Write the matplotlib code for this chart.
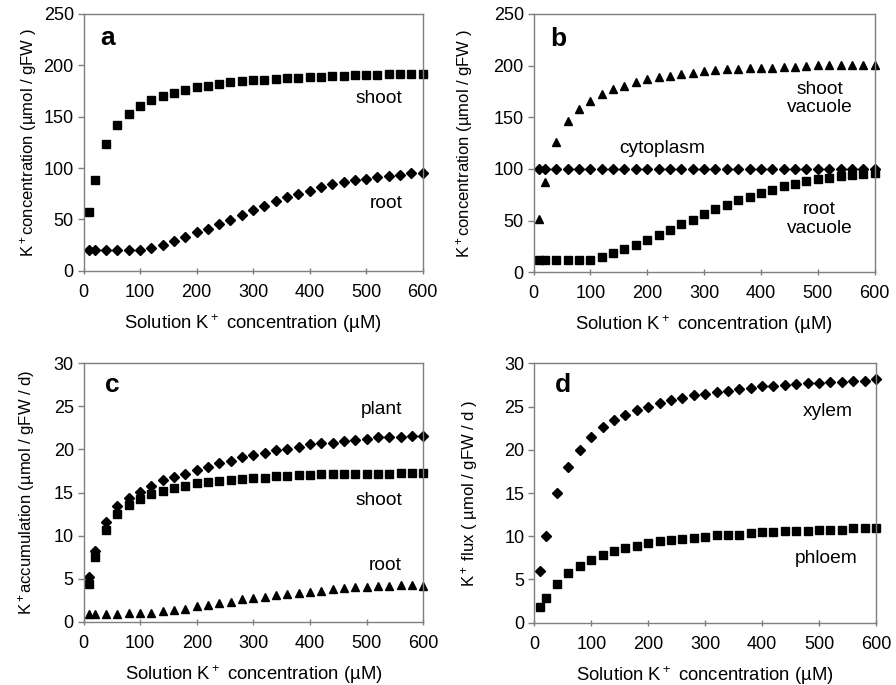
import matplotlib
matplotlib.use("Agg")
import matplotlib.pyplot as plt

plt.rcParams['font.family'] = ['Liberation Sans', 'DejaVu Sans']
plt.rcParams['mathtext.fontset'] = 'custom'
plt.rcParams['mathtext.rm'] = 'Liberation Sans'
plt.rcParams['mathtext.it'] = 'Liberation Sans:italic'
plt.rcParams['mathtext.bf'] = 'Liberation Sans:bold'

x = [10, 20, 40, 60, 80, 100, 120, 140, 160, 180, 200, 220, 240, 260, 280, 300,
     320, 340, 360, 380, 400, 420, 440, 460, 480, 500, 520, 540, 560, 580, 600]

# Panel a
a_shoot = [57, 88.6, 123.7, 141.6, 152.6, 160.4, 166, 170, 172.7, 176, 178.6, 180, 182, 183.4,
           184.4, 185.4, 185.4, 186.7, 187.7, 187.7, 188.6, 188.6, 189.6, 189.6, 190.6, 190.6,
           190.6, 191.9, 191.9, 192, 192]
a_root = [19.8, 20, 20, 20, 20, 20, 21.8, 25.3, 28.9, 33, 37.7, 41, 45.5, 49.7, 54.2, 58.8,
          63.3, 67.9, 71.4, 74.7, 78, 81.2, 84, 86, 88.3, 89.3, 91.6, 92.5, 93.5, 94.8, 94.8]

# Panel b
b_shoot_vac = [52, 87.7, 126, 146, 158, 166, 172.6, 177, 180.6, 184, 186.8, 188.7, 189.7, 192,
               193, 194.5, 195.5, 196.5, 196.5, 197.4, 197.4, 198, 198.7, 199, 199.7, 200.3,
               200.3, 200.6, 201, 201, 201]
b_cyto = [100] * 31
b_root_vac = [12.3, 12.3, 12.3, 12.3, 12.3, 12.3, 15, 18.4, 23, 26.5, 31.3, 36.5, 41, 46.5, 50.6,
              56.8, 61, 65, 69.7, 73.2, 77, 80, 83.2, 85.8, 88, 90, 91.6, 93.2, 94.2, 95.2, 95.8]

# Panel c
c_plant = [5.2, 8.2, 11.6, 13.4, 14.4, 15.1, 15.8, 16.4, 16.8, 17.2, 17.6, 18, 18.4, 18.7, 19.1,
           19.4, 19.6, 19.9, 20.1, 20.3, 20.6, 20.7, 20.8, 21, 21.1, 21.2, 21.4, 21.5, 21.5,
           21.6, 21.6]
c_shoot = [4.4, 7.5, 10.7, 12.5, 13.5, 14.3, 14.8, 15.2, 15.5, 15.8, 16.1, 16.2, 16.3, 16.5,
           16.6, 16.7, 16.7, 16.9, 16.9, 17.0, 17.0, 17.1, 17.1, 17.1, 17.2, 17.2, 17.2, 17.2,
           17.3, 17.3, 17.3]
c_root = [0.9, 0.9, 0.85, 0.9, 1.0, 1.0, 1.05, 1.2, 1.35, 1.5, 1.8, 1.9, 2.2, 2.3, 2.6, 2.75,
          2.9, 3.1, 3.2, 3.3, 3.45, 3.6, 3.8, 3.9, 4.0, 4.0, 4.1, 4.2, 4.25, 4.25, 4.2]

# Panel d
d_xylem = [6.0, 10.0, 15.0, 18.0, 20.0, 21.5, 22.6, 23.4, 24.0, 24.6, 25.0, 25.4, 25.8, 26.0,
           26.3, 26.5, 26.7, 26.8, 27.0, 27.2, 27.4, 27.4, 27.5, 27.6, 27.7, 27.7, 27.8, 27.8,
           28.0, 28.0, 28.15]
d_phloem = [1.8, 2.8, 4.5, 5.7, 6.6, 7.25, 7.8, 8.3, 8.6, 8.9, 9.2, 9.4, 9.55, 9.7, 9.85, 9.95,
            10.1, 10.2, 10.2, 10.4, 10.5, 10.5, 10.6, 10.6, 10.6, 10.75, 10.75, 10.75, 10.9,
            10.9, 10.9]

xlabel = 'Solution K$^+$ concentration (µM)'
ylabels = ['K$^+$concentration (µmol / gFW )', 'K$^+$concentration (µmol / gFW )',
           'K$^+$accumulation (µmol / gFW / d)', 'K$^+$ flux ( µmol / gFW / d )']

W, H = 896, 685
fig = plt.figure(figsize=(W / 100, H / 100), dpi=100)

def make_ax(l, r, t, b):
    return fig.add_axes([l / W, 1 - b / H, (r - l) / W, (b - t) / H])

axa = make_ax(83.5, 422.7, 14, 270.7)
axb = make_ax(533.5, 874.7, 14, 272.3)
axc = make_ax(83.5, 423.3, 363.3, 621.7)
axd = make_ax(534.3, 876, 363.3, 622.7)

gray = '#7f7f7f'
for ax, yl, ymax, ystep, lab, lp, ylx in [
        (axa, ylabels[0], 250, 50, 'a', (0.05, 0.905), -0.131),
        (axb, ylabels[1], 250, 50, 'b', (0.05, 0.905), -0.172),
        (axc, ylabels[2], 30, 5, 'c', (0.062, 0.915), -0.137),
        (axd, ylabels[3], 30, 5, 'd', (0.06, 0.915), -0.158)]:
    ax.set_xlim(0, 600)
    ax.set_ylim(0, ymax)
    ax.set_xticks(range(0, 601, 100))
    ax.set_yticks(range(0, ymax + 1, ystep))
    for s in ax.spines.values():
        s.set_color(gray)
        s.set_linewidth(1.0)
    ax.tick_params(axis='both', direction='out', length=4, width=1, color=gray,
                   labelsize=13, pad=3)
    ax.tick_params(axis='x', direction='inout', length=5, pad=7)
    ax.set_xlabel(xlabel, fontsize=13.3, labelpad=8)
    ax.set_ylabel(yl, fontsize=12)
    ax.yaxis.set_label_coords(ylx, 0.5)
    ax.text(lp[0], lp[1], lab, transform=ax.transAxes, fontsize=19, fontweight='bold',
            ha='left', va='center')

ms_sq = 5.2
ms_d = 5.0
ms_t = 6.0
fs = 13.8

axa.plot(x, a_shoot, 's', color='black', ms=ms_sq, clip_on=False)
axa.plot(x, a_root, 'D', color='black', ms=ms_d, clip_on=False)
axa.text(522, 168, 'shoot', ha='center', va='center', fontsize=fs)
axa.text(535, 65.6, 'root', ha='center', va='center', fontsize=fs)

axb.plot(x, b_shoot_vac, '^', color='black', ms=ms_t, clip_on=False)
axb.plot(x, b_cyto, 'D', color='black', ms=ms_d, clip_on=False)
axb.plot(x, b_root_vac, 's', color='black', ms=ms_sq, clip_on=False)
axb.text(504, 168, 'shoot\nvacuole', ha='center', va='center', fontsize=fs, linespacing=1.1)
axb.text(227, 120, 'cytoplasm', ha='center', va='center', fontsize=fs)
axb.text(503, 51.6, 'root\nvacuole', ha='center', va='center', fontsize=fs, linespacing=1.1)

axc.plot(x, c_plant, 'D', color='black', ms=ms_d, clip_on=False)
axc.plot(x, c_shoot, 's', color='black', ms=ms_sq, clip_on=False)
axc.plot(x, c_root, '^', color='black', ms=ms_t, clip_on=False)
axc.text(526, 24.6, 'plant', ha='center', va='center', fontsize=fs)
axc.text(521, 14.1, 'shoot', ha='center', va='center', fontsize=fs)
axc.text(533, 6.5, 'root', ha='center', va='center', fontsize=fs)

axd.plot(x, d_xylem, 'D', color='black', ms=ms_d, clip_on=False)
axd.plot(x, d_phloem, 's', color='black', ms=ms_sq, clip_on=False)
axd.text(516, 24.4, 'xylem', ha='center', va='center', fontsize=fs)
axd.text(512, 7.4, 'phloem', ha='center', va='center', fontsize=fs)

fig.savefig('out.png', dpi=100)
